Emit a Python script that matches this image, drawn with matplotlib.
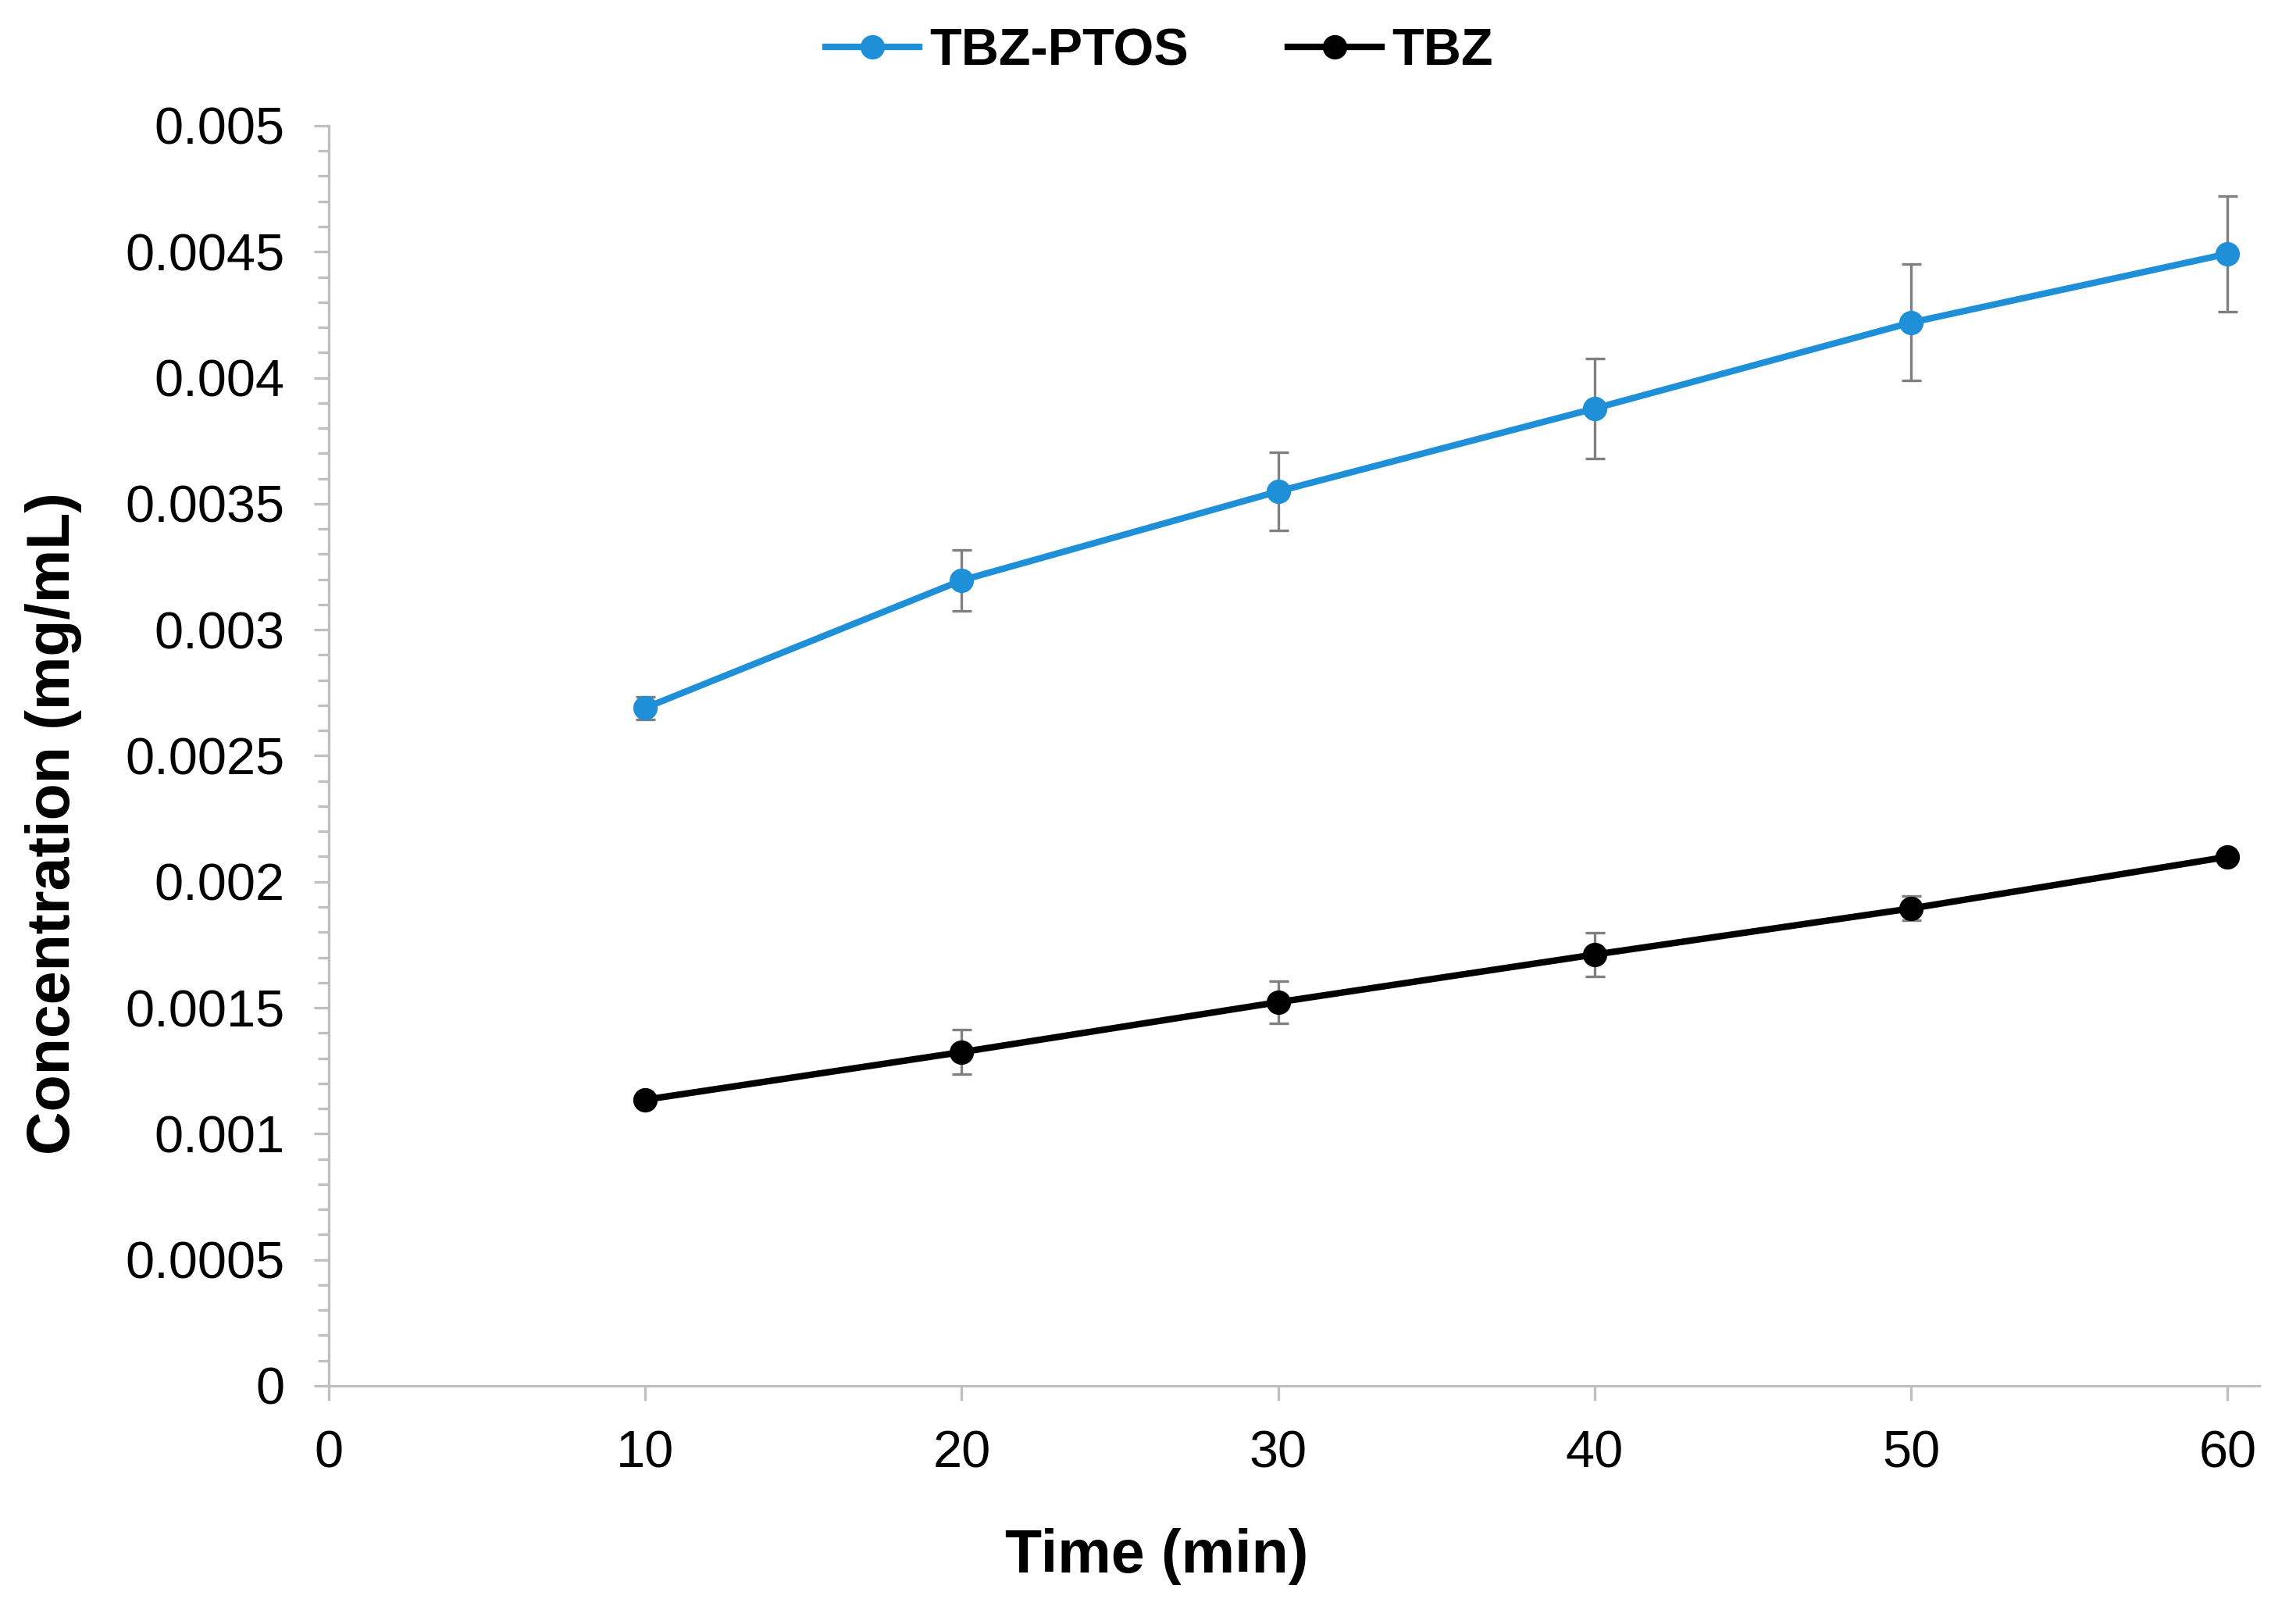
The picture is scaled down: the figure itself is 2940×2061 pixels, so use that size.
import matplotlib
matplotlib.use("Agg")
import matplotlib.pyplot as plt
from matplotlib.ticker import MultipleLocator, FuncFormatter
from matplotlib.lines import Line2D

plt.rcParams['font.family'] = ['Liberation Sans', 'DejaVu Sans']

time_min = [10, 20, 30, 40, 50, 60]
tbz_ptos = [0.00269, 0.003196, 0.003549, 0.003878, 0.004219, 0.004492]
tbz_ptos_err = [0.000045, 0.000121, 0.000155, 0.000198, 0.000231, 0.000229]
tbz = [0.001135, 0.001324, 0.001522, 0.001711, 0.001894, 0.002099]
tbz_err = [0.00002, 0.000088, 0.000084, 0.000088, 0.000048, 0.00002]

x_ticks = [0, 10, 20, 30, 40, 50, 60]
y_ticks = [0, 0.0005, 0.001, 0.0015, 0.002, 0.0025, 0.003, 0.0035, 0.004, 0.0045, 0.005]

blue = '#1f90d8'
grey_err = '#808080'
spine_c = '#bfbfbf'

fig = plt.figure(figsize=(9.8, 6.87), dpi=300)
ax = fig.add_axes([0.1432, 0.1393, 0.984 - 0.1432, 0.9219 - 0.1393])

ax.errorbar(time_min, tbz_ptos, yerr=tbz_ptos_err, color=blue, lw=2.0, marker='o',
            ms=6.5, ecolor=grey_err, elinewidth=0.8, capsize=3, capthick=0.8,
            zorder=3)
ax.errorbar(time_min, tbz, yerr=tbz_err, color='black', lw=2.0, marker='o',
            ms=6.5, ecolor=grey_err, elinewidth=0.8, capsize=3, capthick=0.8,
            zorder=3)

ax.set_xlim(0, 61)
ax.set_ylim(0, 0.005)
ax.set_xticks(x_ticks)
ax.set_yticks(y_ticks)
ax.yaxis.set_minor_locator(MultipleLocator(0.0001))

def yfmt(v, pos):
    if abs(v) < 1e-12:
        return '0'
    return ('%.4f' % v).rstrip('0').rstrip('.')
ax.yaxis.set_major_formatter(FuncFormatter(yfmt))

for side in ['top', 'right']:
    ax.spines[side].set_visible(False)
for side in ['left', 'bottom']:
    ax.spines[side].set_color(spine_c)
    ax.spines[side].set_linewidth(0.8)

ax.tick_params(axis='both', which='major', length=4.6, width=0.8, color=spine_c,
               labelsize=16, pad=9)
ax.tick_params(axis='y', which='minor', length=3.4, width=0.8, color=spine_c)

ax.set_xlabel('Time (min)', fontsize=18.5, fontweight='bold')
ax.set_ylabel('Concentration (mg/mL)', fontsize=18.5, fontweight='bold')
ax.xaxis.set_label_coords(0.429, -0.113)
ax.yaxis.set_label_coords(-0.128, 0.446)

handles = [Line2D([], [], color=blue, lw=2.0, marker='o', ms=6.5),
           Line2D([], [], color='black', lw=2.0, marker='o', ms=6.5)]
labels = ['TBZ-PTOS', 'TBZ']
fig.legend(handles, labels, loc='upper center', bbox_to_anchor=(0.505, 1.012), ncol=2,
           frameon=False, prop={'size': 16, 'weight': 'bold'}, handlelength=1.8,
           columnspacing=1.9, handletextpad=0.2)

fig.savefig('out.png', dpi=300)
